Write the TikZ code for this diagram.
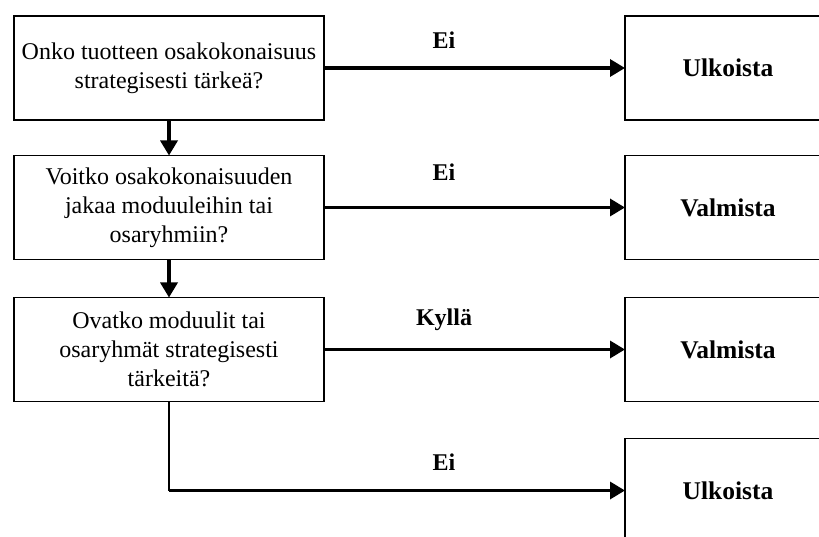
\documentclass[tikz,border=0pt]{standalone}
\usepackage{fontspec}
\setmainfont{Liberation Serif}
\usepackage{tikz}
\usetikzlibrary{arrows.meta,calc}
\tikzstyle{qn}=[rectangle,draw=black,line width=1.6pt,outer sep=0pt,
  minimum width=310pt,minimum height=104pt,align=center,font=\fontsize{24}{29}\selectfont]
\tikzstyle{an}=[rectangle,draw=black,line width=1.6pt,outer sep=0pt,
  minimum width=206pt,minimum height=104pt,font=\fontsize{25.5}{29}\selectfont\bfseries]
\tikzstyle{lb}=[font=\fontsize{24}{29}\selectfont\bfseries]
\tikzstyle{arr}=[line width=3.4pt,-{Triangle[length=15pt,width=17pt]}]

\begin{document}
\begin{tikzpicture}[x=1pt,y=-1pt]
        \useasboundingbox (0,0) rectangle (819,537);
        \clip (0,0) rectangle (819,537);
        \node[style=qn] (1) at (169,68) {Onko tuotteen osakokonaisuus\\strategisesti tärkeä?};
        \node[style=qn] (2) at (169,207.5) {Voitko osakokonaisuuden\\jakaa moduuleihin tai\\osaryhmiin?};
        \node[style=qn] (3) at (169,349.5) {Ovatko moduulit tai\\osaryhmät strategisesti\\tärkeitä?};
        \node[style=an] (4) at (728,68) {Ulkoista};
        \node[style=an] (5) at (728,207.5) {Valmista};
        \node[style=an] (6) at (728,349.5) {Valmista};
        \node[style=an] (7) at (728,490.5) {Ulkoista};
        \node[style=lb] (8) at (444,40) {Ei};
        \node[style=lb] (9) at (444,172) {Ei};
        \node[style=lb] (10) at (444,320) {Kyllä};
        \node[style=lb] (11) at (444,462) {Ei};
        \coordinate (12) at (3.south |- 7.west);
        \draw[style=arr] (1) to (4);
        \draw[style=arr] (2) to (5);
        \draw[style=arr] (3) to (6);
        \draw[style=arr] (1) to (2);
        \draw[style=arr] (2) to (3);
        \draw[line width=1.6pt] (3.south) to (12);
        \draw[style=arr] (12) to (7.west);
    \end{tikzpicture}
\end{document}
